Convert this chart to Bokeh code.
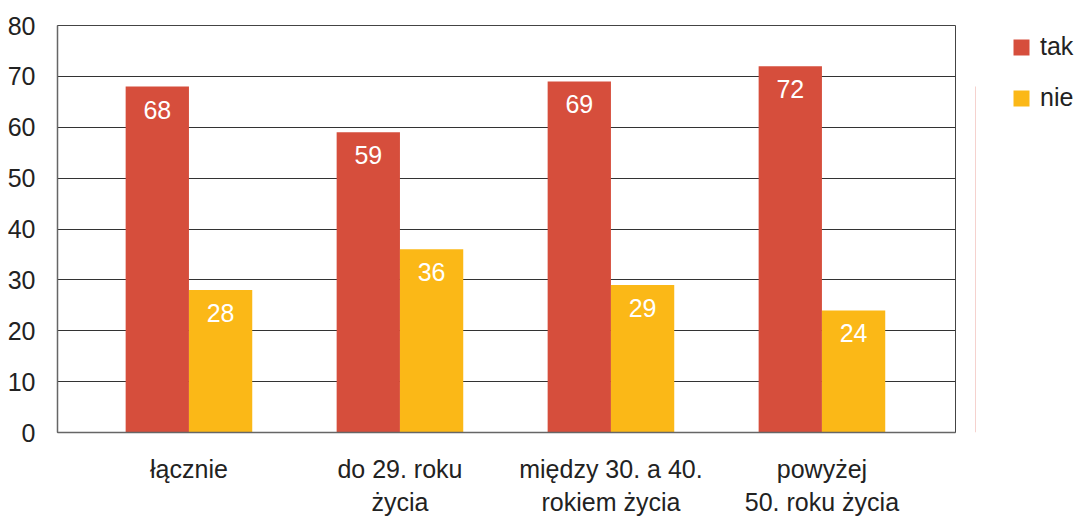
from bokeh.plotting import figure
from bokeh.layouts import row
from bokeh.models import ColumnDataSource, Range1d, FixedTicker, Legend, LegendItem
from bokeh.core.properties import value
from bokeh.embed import file_html
from bokeh.resources import INLINE

categories = ["łącznie", "do 29. roku\nżycia", "między 30. a 40.\nrokiem życia", "powyżej\n50. roku życia"]
tak = [68, 59, 69, 72]
nie = [28, 36, 29, 24]
y_ticks = [0, 10, 20, 30, 40, 50, 60, 70, 80]
series_names = ["tak", "nie"]

RED = "#D64E3C"
YEL = "#FBB817"
TXT = "#222222"
FONT = "Liberation Sans"
FS = "25px"

xs = list(range(len(categories)))
w = 0.30
src_tak = ColumnDataSource(dict(x=[x - w / 2 for x in xs], y=tak, lbl=[str(v) for v in tak]))
src_nie = ColumnDataSource(dict(x=[x + w / 2 for x in xs], y=nie, lbl=[str(v) for v in nie]))

p = figure(width=975, height=519, output_backend="svg", toolbar_location=None,
           x_range=Range1d(-0.623, 3.633), y_range=Range1d(0, 80),
           min_border_left=57, min_border_top=25, min_border_right=20, min_border_bottom=79)

p.vbar(x="x", top="y", width=w, source=src_tak, color=RED, line_color=None)
p.vbar(x="x", top="y", width=w, source=src_nie, color=YEL, line_color=None)

for src in (src_tak, src_nie):
    p.text(x="x", y="y", text="lbl", source=src, text_color="white",
           text_font=value(FONT), text_font_size=FS, text_align="center",
           text_baseline="middle", y_offset=23)

p.xaxis.ticker = FixedTicker(ticks=xs)
p.xaxis.major_label_overrides = {i: c for i, c in enumerate(categories)}
p.yaxis.ticker = FixedTicker(ticks=y_ticks)

for ax in (p.xaxis, p.yaxis):
    ax.major_tick_line_color = None
    ax.minor_tick_line_color = None
    ax.axis_line_color = "#666666"
    ax.axis_line_width = 1.5
    ax.major_label_text_font = FONT
    ax.major_label_text_color = TXT
    ax.major_label_text_font_size = FS
p.xaxis.major_label_standoff = 16
p.yaxis.major_label_standoff = 16

p.xgrid.grid_line_color = None
p.ygrid.grid_line_color = "#333333"
p.ygrid.grid_line_width = 1
p.ygrid.level = "underlay"

p.outline_line_color = "#444444"
p.outline_line_width = 1

# legend panel: zero-width bars, used only for the legend swatches
lp = figure(width=103, height=519, output_backend="svg", toolbar_location=None,
            x_range=Range1d(0, 1), y_range=Range1d(0, 80),
            x_axis_type=None, y_axis_type=None,
            min_border_left=0, min_border_right=0, min_border_top=0, min_border_bottom=0)
lp.grid.visible = False
lp.outline_line_color = None
l1 = lp.vbar(x="x", top="y", width=0, source=src_tak, color=RED, line_color=None)
l2 = lp.vbar(x="x", top="y", width=0, source=src_nie, color=YEL, line_color=None)

legend = Legend(items=[LegendItem(label=series_names[0], renderers=[l1]),
                       LegendItem(label=series_names[1], renderers=[l2])],
                location=(36, 320), padding=0, margin=0, spacing=22,
                glyph_width=20, glyph_height=20, label_height=20,
                label_text_font=FONT, label_text_font_size=FS,
                label_text_color=TXT, label_standoff=9,
                border_line_color=None, background_fill_alpha=0)
lp.add_layout(legend)

layout = row(p, lp, spacing=0)
open("out.html", "w").write(file_html(layout, INLINE))
